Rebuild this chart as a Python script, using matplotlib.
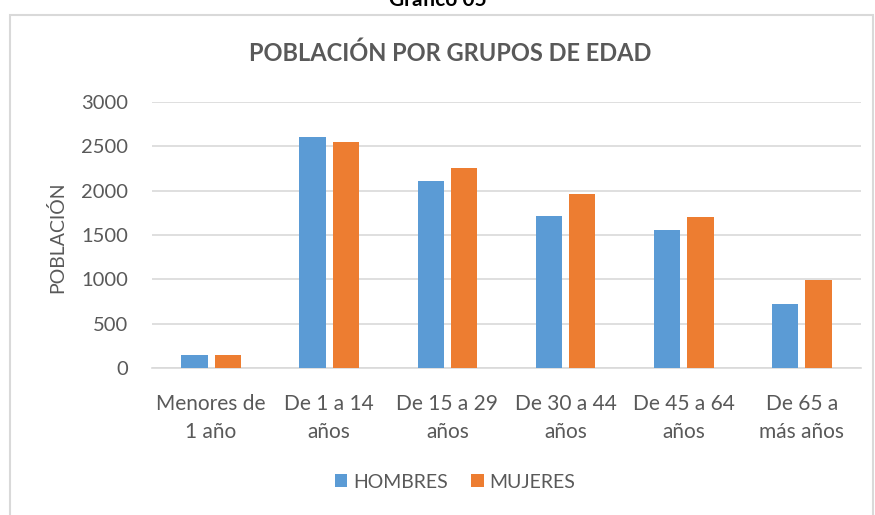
import matplotlib
matplotlib.use("Agg")
import matplotlib.pyplot as plt
from matplotlib.patches import Rectangle
import numpy as np

categories = ["Menores de\n1 año", "De 1 a 14\naños", "De 15 a 29\naños",
              "De 30 a 44\naños", "De 45 a 64\naños", "De 65 a\nmás años"]
hombres = [145, 2600, 2110, 1710, 1560, 720]
mujeres = [145, 2550, 2255, 1960, 1700, 995]
yticks = [0, 500, 1000, 1500, 2000, 2500, 3000]

BLUE = "#5B9BD5"
ORANGE = "#ED7D31"
GRAY = "#595959"
GRID = "#D9D9D9"

plt.rcParams['font.family'] = ['Lato', 'DejaVu Sans']

W, H = 875, 515
fig = plt.figure(figsize=(W / 100, H / 100), dpi=100)
fig.patch.set_facecolor("white")

# chart border
fig.patches.append(Rectangle((10 / W, -0.05), (873 - 10) / W, 1.05 - 15 / H,
                             transform=fig.transFigure, fill=False,
                             edgecolor=GRID, linewidth=1.5))

fig.text(0.5, 1 - 6 / H, "Gráfico 05", ha="center", va="baseline",
         fontsize=15, fontweight="bold", color="black")

ax = fig.add_axes([152 / W, 1 - 368 / H, 709 / W, 266 / H])
x = np.arange(len(categories))
bw = 0.224
off = 0.141
ax.bar(x - off, hombres, bw, color=BLUE, label="HOMBRES", zorder=3)
ax.bar(x + off, mujeres, bw, color=ORANGE, label="MUJERES", zorder=3)

ax.set_xlim(-0.5, len(categories) - 0.5)
ax.set_ylim(0, 3000)
ax.set_yticks(yticks)
ax.set_yticklabels([str(v) for v in yticks])
ax.set_xticks(x)
ax.set_xticklabels(categories, linespacing=1.45, fontsize=15)
ax.tick_params(axis="both", length=0, colors=GRAY)
ax.tick_params(axis="y", pad=17, labelsize=14.5)
ax.tick_params(axis="x", pad=19)
ax.grid(axis="y", color=GRID, linewidth=1.2, zorder=0)
for s in ["top", "right", "left"]:
    ax.spines[s].set_visible(False)
ax.spines["bottom"].set_color(GRID)
ax.spines["bottom"].set_linewidth(1.2)

ax.set_ylabel("POBLACIÓN", fontsize=14, color=GRAY)
ax.yaxis.set_label_coords((66 - 152) / 709, 0.49)

fig.text(450 / W, 1 - 53 / H, "POBLACIÓN POR GRUPOS DE EDAD", fontsize=17,
         fontweight="bold", color=GRAY, ha="center", va="center")

fig.legend(loc="center", bbox_to_anchor=(455 / W, 1 - 482 / H), ncol=2,
           frameon=False, fontsize=14, labelcolor=GRAY, handlelength=0.65,
           handleheight=0.65, handletextpad=0.3, columnspacing=1.2)

fig.savefig("out.png", dpi=100)
